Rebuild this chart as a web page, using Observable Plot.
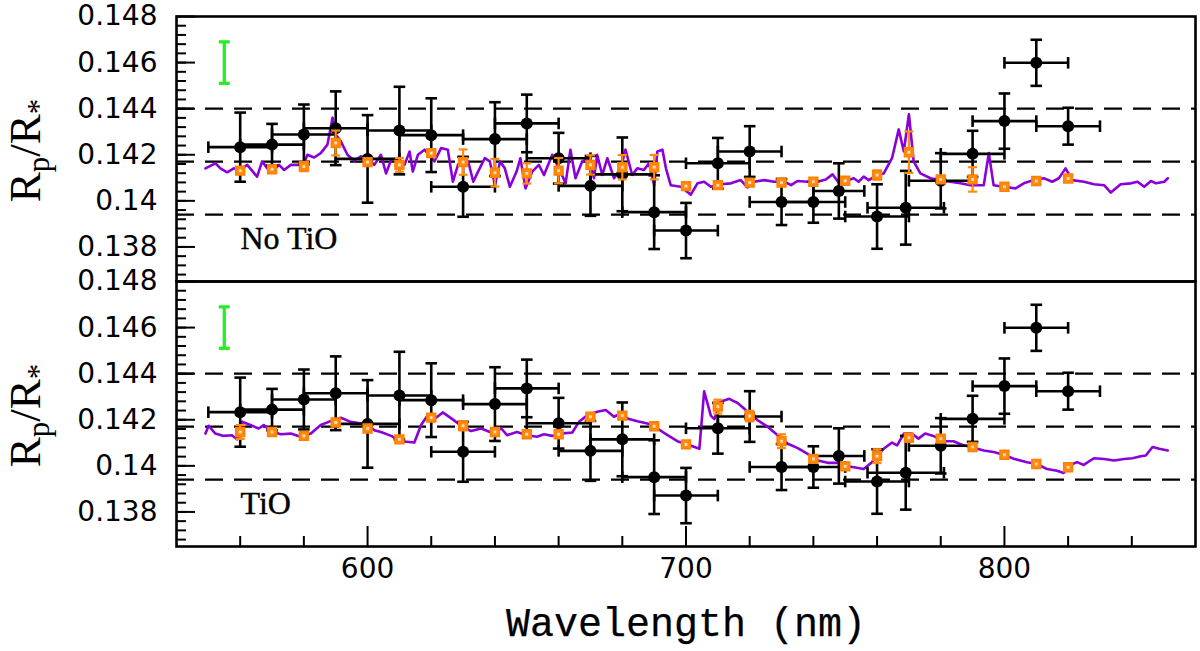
<!DOCTYPE html>
<html>
<head>
<meta charset="utf-8">
<script src="https://cdn.jsdelivr.net/npm/d3@7"></script>
<script src="https://cdn.jsdelivr.net/npm/@observablehq/plot@0.6"></script>
<style>
  body { margin: 0; background: #fff; }
  #chart svg { display: block; }
</style>
</head>
<body>
<div id="chart"></div>
<script>
// observed transmission spectrum (same in both panels)
const obsWave = [560, 570, 580, 590, 600, 610, 620, 630, 640, 650, 660, 670, 680, 690, 700, 710, 720, 730, 740, 748, 760, 769, 780, 790, 800, 810, 820];
const obsDepth = [0.14233, 0.14244, 0.14288, 0.14315, 0.14182, 0.14305, 0.14285, 0.14061, 0.14268, 0.14336, 0.14185, 0.14065, 0.14115, 0.13951, 0.13871, 0.14163, 0.14214, 0.13995, 0.13995, 0.14043, 0.13932, 0.1397, 0.14087, 0.14204, 0.14346, 0.14599, 0.14324];
const obsErr = [0.0015, 0.0009, 0.0013, 0.0016, 0.0019, 0.0019, 0.0016, 0.0013, 0.0016, 0.00125, 0.0011, 0.0013, 0.0016, 0.0016, 0.0012, 0.0011, 0.0011, 0.001, 0.0009, 0.0012, 0.0014, 0.0016, 0.0012, 0.001, 0.0012, 0.001, 0.0008];
const obsHalfWidth = [10, 10, 10, 10, 10, 10, 10, 10, 10, 10, 10, 10, 10, 10, 10, 10, 10, 10, 10, 8, 10, 12, 10, 10, 10, 10, 10];

// binned model points
const binWave = [560, 570, 580, 590, 600, 610, 620, 630, 640, 650, 660, 670, 680, 690, 700, 710, 720, 730, 740, 750, 760, 770, 780, 790, 800, 810, 820];
const noTioBin = [0.14131, 0.14137, 0.14149, 0.14251, 0.14168, 0.14156, 0.14207, 0.14168, 0.14122, 0.14119, 0.14131, 0.14156, 0.14146, 0.14146, 0.14064, 0.14068, 0.14079, 0.14079, 0.14083, 0.14087, 0.14112, 0.14211, 0.14093, 0.14093, 0.14061, 0.14086, 0.14097];
const noTioBinErr = [0.0001, 0.0001, 0.0002, 0.00054, 0.0001, 0.0003, 0.0001, 0.00055, 0.0006, 0.00044, 0.00055, 0.00042, 0.00053, 0.00053, 0.0001, 0.0001, 0.0001, 0.0001, 0.0001, 0.0001, 0.0002, 0.0009, 0.0001, 0.00053, 0.0001, 0.0001, 0.0001];
const tioBin = [0.14147, 0.14147, 0.1413, 0.14188, 0.14162, 0.14115, 0.14209, 0.14174, 0.14147, 0.14137, 0.14137, 0.14213, 0.14218, 0.14172, 0.14093, 0.14257, 0.14216, 0.14107, 0.1403, 0.13998, 0.14042, 0.14122, 0.14118, 0.14082, 0.14048, 0.14008, 0.13994];
const tioBinErr = [0.0003, 0.0001, 0.0001, 0.0001, 0.0001, 0.0001, 0.0001, 0.0002, 0.0001, 0.0001, 0.0001, 0.0001, 0.0001, 0.0001, 0.0001, 0.0003, 0.00023, 0.0003, 0.0001, 0.0001, 0.0003, 0.0001, 0.0001, 0.0001, 0.0001, 0.0001, 0.0001];

// model spectra
const noTioWave = [549.1, 552.2, 553.8, 555.9, 558, 559.8, 562.2, 565.3, 566.9, 568.5, 570.1, 572.2, 573.8, 575.9, 578, 579.9, 581.1, 583.2, 585.3, 587.4, 589, 590, 591.6, 593.7, 595.8, 597.9, 600, 602.1, 604.2, 605.8, 607.4, 609.5, 611.6, 613.2, 614.2, 615.8, 617.9, 621, 623.1, 625.2, 626.8, 628.4, 630, 631.6, 633.2, 634.7, 636.8, 638.4, 640, 641.6, 643.1, 644.7, 646.8, 648, 649.6, 651.7, 653.8, 655.4, 658, 660.1, 662.2, 663.7, 665.3, 667.4, 669.5, 671.1, 672.1, 673.7, 675.3, 677.4, 679.5, 681, 683.1, 684.7, 686.8, 688.4, 690, 691, 692.6, 693.7, 695.2, 698.4, 701.5, 703.6, 705.7, 707.8, 710.9, 714.1, 717.2, 719.3, 721.4, 724.6, 727.7, 730.9, 733, 735, 738.2, 741.3, 743.9, 746, 748.1, 749.5, 752.7, 754.2, 755.8, 757.4, 760, 762.1, 764.7, 766.8, 768.4, 770, 771.5, 773.6, 776.8, 779.9, 783, 786.2, 789.3, 793.5, 795.1, 796.6, 799.8, 803.5, 806.1, 809.2, 812.4, 815, 817.1, 819.2, 821.3, 825, 828.1, 831.3, 833.4, 836.5, 839.7, 841.8, 843.9, 846, 847.6, 850.2, 851.3];
const noTioDepth = [0.14141, 0.14163, 0.14141, 0.14124, 0.14141, 0.14135, 0.14156, 0.14105, 0.14171, 0.14141, 0.14127, 0.14156, 0.14134, 0.14156, 0.14156, 0.14156, 0.142, 0.14188, 0.14207, 0.14244, 0.14361, 0.14288, 0.14258, 0.142, 0.14174, 0.14193, 0.14185, 0.14156, 0.142, 0.14119, 0.14178, 0.14185, 0.14156, 0.14214, 0.14127, 0.142, 0.14222, 0.14171, 0.14229, 0.14222, 0.14083, 0.14156, 0.14185, 0.14171, 0.14083, 0.14127, 0.14185, 0.14171, 0.14068, 0.14171, 0.14141, 0.14061, 0.14127, 0.14185, 0.14054, 0.14127, 0.14156, 0.14112, 0.142, 0.14141, 0.14076, 0.14222, 0.14098, 0.14171, 0.14185, 0.14098, 0.142, 0.14112, 0.14185, 0.14098, 0.14141, 0.14222, 0.14112, 0.14141, 0.14134, 0.14163, 0.14068, 0.14214, 0.14222, 0.14141, 0.14068, 0.14061, 0.14027, 0.14076, 0.14083, 0.14061, 0.14072, 0.14076, 0.1409, 0.14058, 0.14083, 0.1409, 0.14083, 0.14083, 0.14068, 0.14086, 0.14083, 0.14083, 0.14093, 0.14115, 0.14076, 0.14083, 0.14098, 0.14083, 0.14105, 0.1409, 0.14112, 0.14119, 0.14185, 0.1431, 0.14214, 0.14376, 0.14171, 0.14119, 0.14098, 0.1409, 0.14083, 0.14076, 0.14068, 0.14068, 0.14207, 0.14068, 0.14061, 0.14054, 0.14076, 0.1409, 0.14098, 0.14083, 0.14098, 0.14141, 0.1409, 0.14083, 0.14072, 0.14068, 0.14036, 0.14072, 0.14076, 0.14083, 0.14061, 0.14086, 0.14076, 0.14083, 0.14098];
const tioWave = [549.1, 550.1, 552.2, 554.8, 557.4, 559, 560.6, 563.2, 565.8, 567.4, 569.5, 572.7, 575.9, 579, 582.2, 585.3, 588.4, 591.6, 594.7, 597.9, 600, 602.1, 604.2, 607.4, 610.5, 614.7, 616.8, 618.9, 621, 623.6, 626.3, 629.4, 632.5, 635.7, 638.8, 642, 643.8, 646.9, 650.1, 653.2, 655.4, 658, 660.6, 664.3, 666.4, 669, 672.1, 674.8, 677.4, 679.5, 681.6, 684.7, 687.9, 691, 694.2, 697.3, 700.5, 704.2, 705.7, 707.8, 708.9, 711, 713.6, 716.3, 719.4, 722.5, 725.7, 728.8, 732, 735.1, 738.2, 741.4, 744.5, 747.6, 749.5, 752.7, 755.8, 758.4, 760, 762.1, 764.7, 766.3, 768.4, 770.9, 773, 775.1, 777.7, 780.9, 784, 787.2, 790.3, 793.5, 796.6, 799.8, 802.9, 807.1, 810.2, 813.4, 816.5, 818.6, 820.7, 822.8, 824.9, 828.1, 831.3, 834.4, 837.6, 840.2, 842.8, 844.4, 846.5, 848.6, 851.3];
const tioDepth = [0.1414, 0.14174, 0.1414, 0.1413, 0.14133, 0.14115, 0.14191, 0.14177, 0.14162, 0.14177, 0.14151, 0.14137, 0.1414, 0.14126, 0.1414, 0.14177, 0.14194, 0.14209, 0.14191, 0.14184, 0.1418, 0.14155, 0.14147, 0.1413, 0.14107, 0.14101, 0.14177, 0.1422, 0.14203, 0.14232, 0.14206, 0.14174, 0.14151, 0.14162, 0.14145, 0.14162, 0.14133, 0.14147, 0.14133, 0.14126, 0.14137, 0.1413, 0.1414, 0.14145, 0.14191, 0.1422, 0.14235, 0.14242, 0.14213, 0.14228, 0.14206, 0.14194, 0.14184, 0.14162, 0.14133, 0.14107, 0.14093, 0.14074, 0.14323, 0.14218, 0.14203, 0.14279, 0.14291, 0.14272, 0.14235, 0.14198, 0.14169, 0.14133, 0.14096, 0.14077, 0.14052, 0.14023, 0.14013, 0.14013, 0.14001, 0.13994, 0.13986, 0.14016, 0.14045, 0.14074, 0.14101, 0.14089, 0.1414, 0.1414, 0.14118, 0.1414, 0.1413, 0.14107, 0.14107, 0.14089, 0.14079, 0.14067, 0.1406, 0.14048, 0.14031, 0.14016, 0.14008, 0.13986, 0.13979, 0.13969, 0.14004, 0.14016, 0.14004, 0.14033, 0.1403, 0.14023, 0.1403, 0.14033, 0.14042, 0.14045, 0.14082, 0.14074, 0.14067];

// typical error bar (green) and mean +/- sigma levels
const typWave = [555];
const typDepth = [0.146];
const typErr = [0.0009];
const levels = [0.1394, 0.1417, 0.1440];

// axes
const yTicks = [0.138, 0.14, 0.142, 0.144, 0.146, 0.148];
const yTickLabels = ["0.138", "0.14", "0.142", "0.144", "0.146", "0.148"];
const yMinor = d3.range(0, 28).map(i => 0.1368 + i * 0.0004);
const xTicks = [600, 700, 800];
const xTickLabels = ["600", "700", "800"];
const xMinor = [560, 580, 620, 640, 660, 680, 720, 740, 760, 780, 820, 840];

const W = 1200, ML = 176, MR = 5, PANEL = 265;
const innerW = W - ML - MR;

const obs = obsWave.map((w, i) => ({w, r: obsDepth[i], e: obsErr[i], hw: obsHalfWidth[i]}));
const typ = typWave.map((w, i) => ({w, r: typDepth[i], e: typErr[i]}));
const bins = b => binWave.map((w, i) => ({w, r: b[0][i], e: b[1][i]}));
const model = (ws, rs) => ws.map((w, i) => ({w, r: rs[i]}));

// cap symbols for error bars
const hCap = {draw(ctx, size) { const h = Math.sqrt(size / Math.PI); ctx.moveTo(-h, 0); ctx.lineTo(h, 0); }};
const vCap = {draw(ctx, size) { const h = Math.sqrt(size / Math.PI); ctx.moveTo(0, -h); ctx.lineTo(0, h); }};

const ORANGE = "#ff8a10", PURPLE = "#8a00d8", GREEN = "#22ee22";

function errMarks(data, color, capR, sw) {
  return [
    Plot.ruleX(data, {x: "w", y1: d => d.r - d.e, y2: d => d.r + d.e, stroke: color, strokeWidth: sw}),
    Plot.dot(data, {x: "w", y: d => d.r - d.e, symbol: hCap, r: capR, fill: "none", stroke: color, strokeWidth: sw}),
    Plot.dot(data, {x: "w", y: d => d.r + d.e, symbol: hCap, r: capR, fill: "none", stroke: color, strokeWidth: sw})
  ];
}

function panel({modelData, binData, label, top, bottom, xAxis}) {
  const svg = Plot.plot({
    width: W,
    height: top + PANEL + bottom,
    marginLeft: ML,
    marginRight: MR,
    marginTop: top,
    marginBottom: bottom,
    x: {domain: [540, 860], axis: null},
    y: {domain: [0.1365, 0.148], axis: null},
    style: {background: "#fff", color: "#000", fontFamily: "DejaVu Sans", fontSize: "28px", overflow: "visible"},
    marks: [
      Plot.ruleY(levels, {stroke: "#000", strokeWidth: 2.2, strokeDasharray: "18,11"}),
      // inward ticks
      Plot.ruleY(yMinor, {stroke: "#000", strokeWidth: 2, insetRight: innerW - 10}),
      Plot.ruleY(yTicks, {stroke: "#000", strokeWidth: 2, insetRight: innerW - 19}),
      xAxis ? Plot.ruleX(xMinor, {stroke: "#000", strokeWidth: 2, insetTop: PANEL - 10}) : null,
      xAxis ? Plot.ruleX(xTicks, {stroke: "#000", strokeWidth: 2, insetTop: PANEL - 20}) : null,
      Plot.axisY(yTicks, {tickSize: 0, tickPadding: 19, fontSize: 28, label: null,
        tickFormat: d => yTickLabels[yTicks.indexOf(d)]}),
      xAxis ? Plot.axisX(xTicks, {tickSize: 0, tickPadding: 12, fontSize: 28, label: null,
        tickFormat: d => xTickLabels[xTicks.indexOf(d)]}) : null,
      xAxis ? Plot.text(["Wavelength (nm)"], {text: d => d, frameAnchor: "bottom", dy: 89, lineAnchor: "bottom",
        fontFamily: "Liberation Mono", fontSize: 40, fill: "#000", stroke: "#000", strokeWidth: 0.25}) : null,
      // typical uncertainty
      ...errMarks(typ, GREEN, 5.5, 3.2),
      // model
      Plot.line(modelData, {x: "w", y: "r", stroke: PURPLE, strokeWidth: 2.6}),
      // observations
      Plot.ruleY(obs, {y: "r", x1: d => d.w - d.hw, x2: d => d.w + d.hw, stroke: "#000", strokeWidth: 2.6}),
      Plot.dot(obs, {x: d => d.w - d.hw, y: "r", symbol: vCap, r: 5.8, fill: "none", stroke: "#000", strokeWidth: 2.6}),
      Plot.dot(obs, {x: d => d.w + d.hw, y: "r", symbol: vCap, r: 5.8, fill: "none", stroke: "#000", strokeWidth: 2.6}),
      ...errMarks(obs, "#000", 5.8, 2.6),
      Plot.dot(obs, {x: "w", y: "r", r: 6, fill: "#000"}),
      // binned model
      ...errMarks(binData, ORANGE, 4.5, 2.2),
      Plot.dot(binData, {x: "w", y: "r", symbol: "square", r: 5, fill: ORANGE, stroke: "#ff8000", strokeWidth: 1.5}),
      Plot.dot(binData, {x: "w", y: "r", symbol: "square", r: 1.6, fill: "#ffe0b8"}),
      Plot.text([label], {text: d => d, frameAnchor: "bottom-left", dx: 64, dy: -33, textAnchor: "start", lineAnchor: "bottom",
        fontFamily: "Liberation Serif", fontSize: 32, fill: "#000", stroke: "#000", strokeWidth: 0.4}),
      Plot.frame({stroke: "#000", strokeWidth: 2.6})
    ]
  });

  // y label R_p / R_*
  const t = d3.select(svg).append("text")
    .attr("transform", `translate(40,${top + PANEL / 2 + 2}) rotate(-90)`)
    .attr("text-anchor", "middle")
    .attr("fill", "#000")
    .style("font-family", "Liberation Serif")
    .style("font-size", "45px");
  t.append("tspan").text("R");
  t.append("tspan").attr("dy", 9).style("font-size", "31px").text("p");
  t.append("tspan").attr("dy", -9).text("/R");
  t.append("tspan").attr("dy", 9).style("font-size", "31px").text("*");
  return svg;
}

const chart = document.getElementById("chart");
chart.appendChild(panel({
  modelData: model(noTioWave, noTioDepth),
  binData: bins([noTioBin, noTioBinErr]),
  label: "No TiO", top: 16, bottom: 0, xAxis: false
}));
chart.appendChild(panel({
  modelData: model(tioWave, tioDepth),
  binData: bins([tioBin, tioBinErr]),
  label: "TiO", top: 0, bottom: 105, xAxis: true
}));
</script>
</body>
</html>
